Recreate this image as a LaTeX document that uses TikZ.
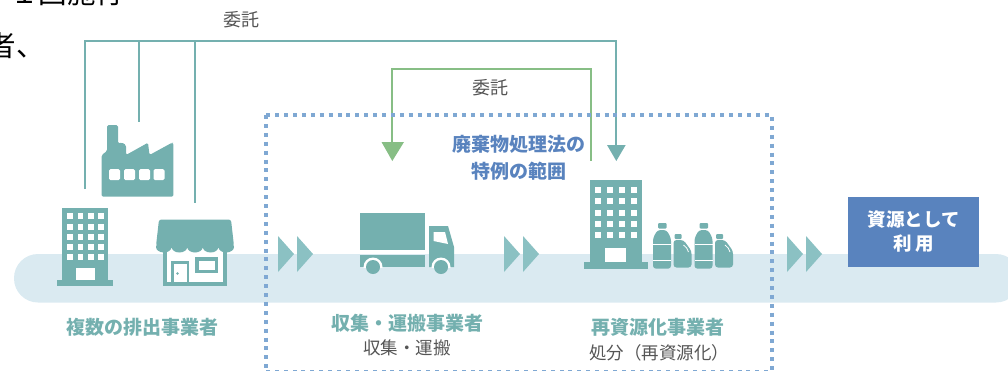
\documentclass[tikz,border=0pt]{standalone}
\usepackage{fontspec}
\setmainfont{Noto Sans CJK JP}
\definecolor{teal1}{HTML}{74B0AF}
\definecolor{band}{HTML}{DAEAF1}
\definecolor{chev}{HTML}{8BC1C3}
\definecolor{grn}{HTML}{87BE85}
\definecolor{dotb}{HTML}{7FA8D3}
\definecolor{blu}{HTML}{5983BE}
\definecolor{gry}{HTML}{555555}
\tikzset{
 x=1pt,y=-1pt,
 glyph/.style={fill=teal1,draw=none},
 cut/.style={fill=white,draw=none},
 chevron/.style={fill=chev,draw=none},
 wire/.style={draw=teal1,line width=2pt},
 gwire/.style={draw=grn,line width=2pt},
 scopebox/.style={draw=dotb,line width=4pt,dash pattern=on 4pt off 4.9pt},
 lab/.style={font=\fontsize{19}{22}\selectfont\bfseries,text=teal1,align=center,inner sep=0pt},
 sublab/.style={font=\fontsize{17.5}{20}\selectfont,text=gry,align=center,inner sep=0pt},
 bluelab/.style={font=\fontsize{19}{27}\selectfont\bfseries,text=blu,align=center,inner sep=0pt},
 res/.style={fill=blu,draw=none,text=white,minimum width=131pt,minimum height=70pt,inner sep=0pt,align=center,font=\fontsize{18.5}{24}\selectfont\bfseries},
 itaku/.style={font=\fontsize{18}{20}\selectfont,text=gry,inner sep=0pt},
 pagetext/.style={inner sep=0pt,font=\fontsize{28.5}{30}\selectfont,text=black},
}
\newcommand{\chevs}[1]{%
 \fill[chevron] (#1,236)--(#1+16,254)--(#1,272)--cycle;
 \fill[chevron] (#1+19,236)--(#1+35,254)--(#1+19,272)--cycle;}
\begin{document}
\begin{tikzpicture}
\useasboundingbox (0,0) rectangle (1008,370);
\clip (0,0) rectangle (1008,370);
% cropped page text
\node[pagetext] (cuttop) at (67,-7) {１回施行};
\node[pagetext,anchor=west] (cutleft) at (-12.5,46) {者、};
% band
\fill[band,rounded corners=24pt] (14,254) rectangle (1020,302.5);
% connectors
\coordinate (t1) at (85,40.7);
\coordinate (t2) at (138.7,40.7);
\coordinate (t3) at (194.7,40.7);
\coordinate (t4) at (616.3,40.7);
\coordinate (f1) at (85,189);
\coordinate (f2) at (138.7,121.7);
\coordinate (f3) at (194.7,203.3);
\coordinate (f4) at (616.3,146);
\draw[wire] (f1) -- (t1) -- (t4) -- (f4);
\draw[wire] (t2) -- (f2);
\draw[wire] (t3) -- (f3);
\fill[teal1] (607,145) -- (625.7,145) -- (616.3,161) -- cycle;
\coordinate (g1) at (590.7,160.7);
\coordinate (g2) at (590.7,69);
\coordinate (g3) at (392.3,69);
\coordinate (g4) at (392.3,143);
\draw[gwire] (g1) -- (g2) -- (g3) -- (g4);
\fill[grn] (381.5,142) -- (404,142) -- (392.3,161) -- cycle;
% dotted scope
\draw[scopebox] (266.3,115) -- (771.7,115) -- (771.7,371.5) -- (266.3,371.5);
\draw[scopebox] (266.3,115) -- (266.3,371.5);
% labels
\node[itaku] (w1) at (241,20) {委託};
\node[itaku] (w2) at (490,88) {委託};
\node[bluelab] (hani) at (518.5,157.5) {廃棄物処理法の\\特例の範囲};
% factory
\fill[glyph,rounded corners=1.5pt] (101.7,196.7) -- (101.7,155) -- (107,151) -- (107,125) -- (118,125) -- (118,143.5) -- (122,142.5) -- (126,145) -- (126,155) -- (148,142.7) -- (149.5,155) -- (172,142.7) -- (173.3,143) -- (173.3,196.7) -- cycle;
\foreach \x in {109,124,139,153.5}
 \fill[cut,rounded corners=1.5pt] (\x,169) rectangle (\x+11,180);
% office left
\fill[glyph] (62,208) rectangle (108,280.5);
\fill[glyph] (57,280) rectangle (113,285.5);
\foreach \x in {67.3,77.7,88,98.3} \foreach \y in {213,224,234,244,254}
 \fill[cut] (\x,\y) rectangle (\x+5.5,\y+5.5);
\fill[cut] (76,268) rectangle (95,280);
% shop
\fill[glyph] (163,240) rectangle (227,285.5);
\fill[cut] (167,248) rectangle (223,281.5);
\fill[glyph,rounded corners=2.5pt] (159,219.5) -- (231,219.5) -- (234,246) -- (156,246) -- cycle;
\foreach \x in {156,171.6,187.2,202.8,218.4}
 \fill[glyph] (\x+7.8,247) ellipse [x radius=7.8pt,y radius=5.5pt];
\fill[glyph] (171,261) rectangle (189,285.5);
\fill[cut] (173.5,263.5) rectangle (187,281.5);
\fill[glyph] (177.5,273.5) circle (1.3pt);
\fill[glyph] (195,257) rectangle (218,273);
\fill[cut] (198.5,261) rectangle (214.5,270);
% chevrons
\chevs{278}
\chevs{504}
\chevs{787}
% truck
\fill[glyph] (360,213) rectangle (425,250);
\fill[glyph] (360,255) rectangle (425,267);
\fill[glyph] (429,226) -- (448,226) -- (454,247) -- (454,267) -- (429,267) -- cycle;
\fill[cut] (433.5,232) -- (445,232) -- (448,244) -- (433.5,241) -- cycle;
\begin{scope}
 \clip (350,240) rectangle (460,267);
 \fill[cut] (373,267) circle (9.5pt);
 \fill[cut] (441,267) circle (9.5pt);
\end{scope}
\fill[glyph] (373,267) circle (7pt);
\fill[glyph] (441,267) circle (7pt);
% office right
\fill[glyph] (590,180) rectangle (642,263);
\fill[glyph] (584,262) rectangle (648,269);
\foreach \x in {595,607,619,631} \foreach \y in {187,198,210,221,232}
 \fill[cut] (\x,\y) rectangle (\x+6,\y+6);
\fill[cut] (605,248) rectangle (626,262);
% bottles
\foreach \x in {653,694.5}{
 \fill[glyph,rounded corners=1pt] (\x+5,223) rectangle (\x+13.5,228.5);
 \fill[glyph,rounded corners=3pt] (\x,268.7) -- (\x,238) -- (\x+4.5,230) -- (\x+13.5,230) -- (\x+18,238) -- (\x+18,268.7) -- cycle;
 \fill[cut] (\x,243.5) rectangle (\x+18,245);
 \fill[cut] (\x,259.5) rectangle (\x+18,261);
}
\foreach \x in {673.5,715}{
 \fill[glyph,rounded corners=1pt] (\x+1,234) rectangle (\x+8,239);
 \fill[glyph,rounded corners=3pt] (\x,267.5) -- (\x,240) -- (\x+10,240) -- (\x+18,251) -- (\x+18,267.5) -- cycle;
 \draw[white,line width=.8pt] (\x+10,245) to[bend left=20] (\x+15,252);
}
% result box
\node[res] (shigen) at (913.5,232) {資源として\\利\kern3pt 用};
% bottom labels
\node[lab] (l1) at (142.5,327.5) {複数の排出事業者};
\node[lab] (l2) at (407,323) {収集・運搬事業者};
\node[sublab] (s2) at (407,348) {収集・運搬};
\node[lab] (l3) at (658,327) {再資源化事業者};
\node[sublab] (s3) at (659,353) {処分（再資源化）};
\end{tikzpicture}
\end{document}
